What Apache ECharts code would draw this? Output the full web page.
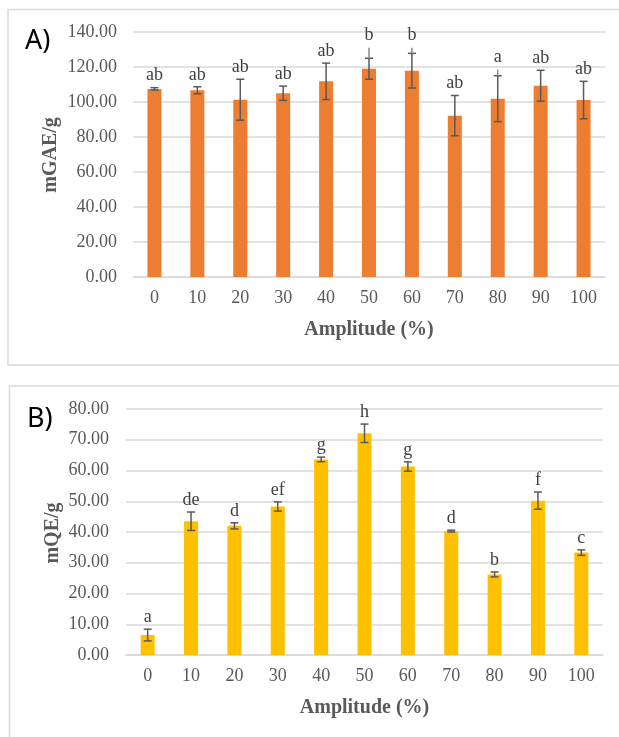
<!DOCTYPE html>
<html>
<head>
<meta charset="utf-8">
<script src="https://cdn.jsdelivr.net/npm/echarts@6/dist/echarts.min.js"></script>
<style>
  html, body { margin: 0; padding: 0; background: #ffffff; }
  #chart { width: 619px; height: 737px; }
</style>
</head>
<body>
<div id="chart"></div>
<script>
// amplitude levels (%)
const categories = ['0', '10', '20', '30', '40', '50', '60', '70', '80', '90', '100']

// A) total phenolics, mGAE/g
const phenolMean = [107.5, 106.7, 101.3, 105.0, 111.8, 119.0, 117.9, 92.2, 101.9, 109.3, 101.1]
const phenolErr = [0.7, 2.0, 11.7, 4.1, 10.4, 6.0, 9.9, 11.5, 13.1, 8.8, 10.7]
const phenolWhiskerTop = [null, null, null, null, null, 131.0, 131.0, null, 118.5, null, null]
const phenolLetters = ['ab', 'ab', 'ab', 'ab', 'ab', 'b', 'b', 'ab', 'a', 'ab', 'ab']

// B) flavonoids, mQE/g
const flavMean = [6.5, 43.5, 42.0, 48.3, 63.6, 72.1, 61.3, 40.3, 26.2, 50.2, 33.3]
const flavErr = [1.9, 3.0, 1.0, 1.5, 0.75, 3.0, 1.5, 0.3, 0.8, 2.8, 0.9]
const flavLetters = ['a', 'de', 'd', 'ef', 'g', 'h', 'g', 'd', 'b', 'f', 'c']

const serif = 'Liberation Serif'
const gridColor = '#d9d9d9'
const textColor = '#595959'

function errorSeries (means, errs, whiskers, letters, axisIdx) {
  return {
    type: 'custom',
    xAxisIndex: axisIdx,
    yAxisIndex: axisIdx,
    z: 5,
    data: means.map((v, i) => [i, v]),
    renderItem (params, api) {
      const i = params.dataIndex
      const x = api.coord([i, means[i]])[0]
      const hi = api.coord([i, means[i] + errs[i]])[1]
      const lo = api.coord([i, means[i] - errs[i]])[1]
      const w = whiskers ? whiskers[i] : null
      const top = w != null ? api.coord([i, w])[1] : hi
      const stroke = { stroke: '#595959', lineWidth: 1.5 }
      const children = [
        { type: 'line', shape: { x1: x, y1: hi, x2: x, y2: lo }, style: stroke },
        { type: 'line', shape: { x1: x - 4, y1: hi, x2: x + 4, y2: hi }, style: stroke },
        { type: 'line', shape: { x1: x - 4, y1: lo, x2: x + 4, y2: lo }, style: stroke },
        {
          type: 'text',
          x: x,
          y: top - 3,
          style: {
            text: letters[i],
            align: 'center',
            verticalAlign: 'bottom',
            font: '18px "Liberation Serif"',
            fill: '#404040'
          }
        }
      ]
      if (w != null) {
        children.push({ type: 'line', shape: { x1: x, y1: top, x2: x, y2: hi }, style: { stroke: '#8c8c8c', lineWidth: 1.5 } })
      }
      return { type: 'group', children: children }
    }
  }
}

function xAxisFor (gridIdx) {
  return {
    type: 'category',
    gridIndex: gridIdx,
    data: categories,
    axisTick: { show: false },
    axisLine: { lineStyle: { color: gridColor, width: 1.5 } },
    axisLabel: { color: textColor, fontFamily: serif, fontSize: 18, margin: 12 },
    name: 'Amplitude (%)',
    nameLocation: 'middle',
    nameGap: 43,
    nameTextStyle: { color: textColor, fontFamily: serif, fontSize: 20, fontWeight: 'bold' }
  }
}

function yAxisFor (gridIdx, max, interval, margin) {
  return {
    type: 'value',
    gridIndex: gridIdx,
    min: 0,
    max: max,
    interval: interval,
    axisLine: { show: false },
    axisTick: { show: false },
    splitLine: { lineStyle: { color: gridColor, width: 1.5 } },
    axisLabel: {
      color: textColor,
      fontFamily: serif,
      fontSize: 18,
      margin: margin,
      formatter: v => v.toFixed(2)
    }
  }
}

function yTitle (text, x, y) {
  return {
    type: 'text',
    x: x,
    y: y,
    rotation: Math.PI / 2,
    style: {
      text: text,
      align: 'center',
      verticalAlign: 'middle',
      font: 'bold 20px "Liberation Serif"',
      fill: textColor
    }
  }
}

const chart = echarts.init(document.getElementById('chart'))
chart.setOption({
  animation: false,
  grid: [
    { left: 133, right: 14, top: 32, height: 245 },
    { left: 126, right: 16, top: 409, height: 246 }
  ],
  xAxis: [xAxisFor(0), xAxisFor(1)],
  yAxis: [
    yAxisFor(0, 140, 20, 16),
    yAxisFor(1, 80, 10, 17)
  ],
  graphic: [
    { type: 'rect', shape: { x: 8, y: 9.5, width: 700, height: 355.5 }, style: { fill: 'none', stroke: gridColor, lineWidth: 1.5 } },
    { type: 'rect', shape: { x: 9.5, y: 386, width: 700, height: 500 }, style: { fill: 'none', stroke: gridColor, lineWidth: 1.5 } },
    { type: 'text', left: 25, top: 28, style: { text: 'A)', font: '27px "Noto Sans"', fill: '#000000' } },
    { type: 'text', left: 27, top: 406, style: { text: 'B)', font: '27px "Noto Sans"', fill: '#000000' } },
    yTitle('mGAE/g', 51, 155),
    yTitle('mQE/g', 53, 533)
  ],
  series: [
    {
      type: 'bar',
      xAxisIndex: 0,
      yAxisIndex: 0,
      barWidth: 14,
      data: phenolMean,
      itemStyle: { color: '#ed7d31' }
    },
    errorSeries(phenolMean, phenolErr, phenolWhiskerTop, phenolLetters, 0),
    {
      type: 'bar',
      xAxisIndex: 1,
      yAxisIndex: 1,
      barWidth: 14,
      data: flavMean,
      itemStyle: { color: '#ffc000' }
    },
    errorSeries(flavMean, flavErr, null, flavLetters, 1)
  ]
})
</script>
</body>
</html>
